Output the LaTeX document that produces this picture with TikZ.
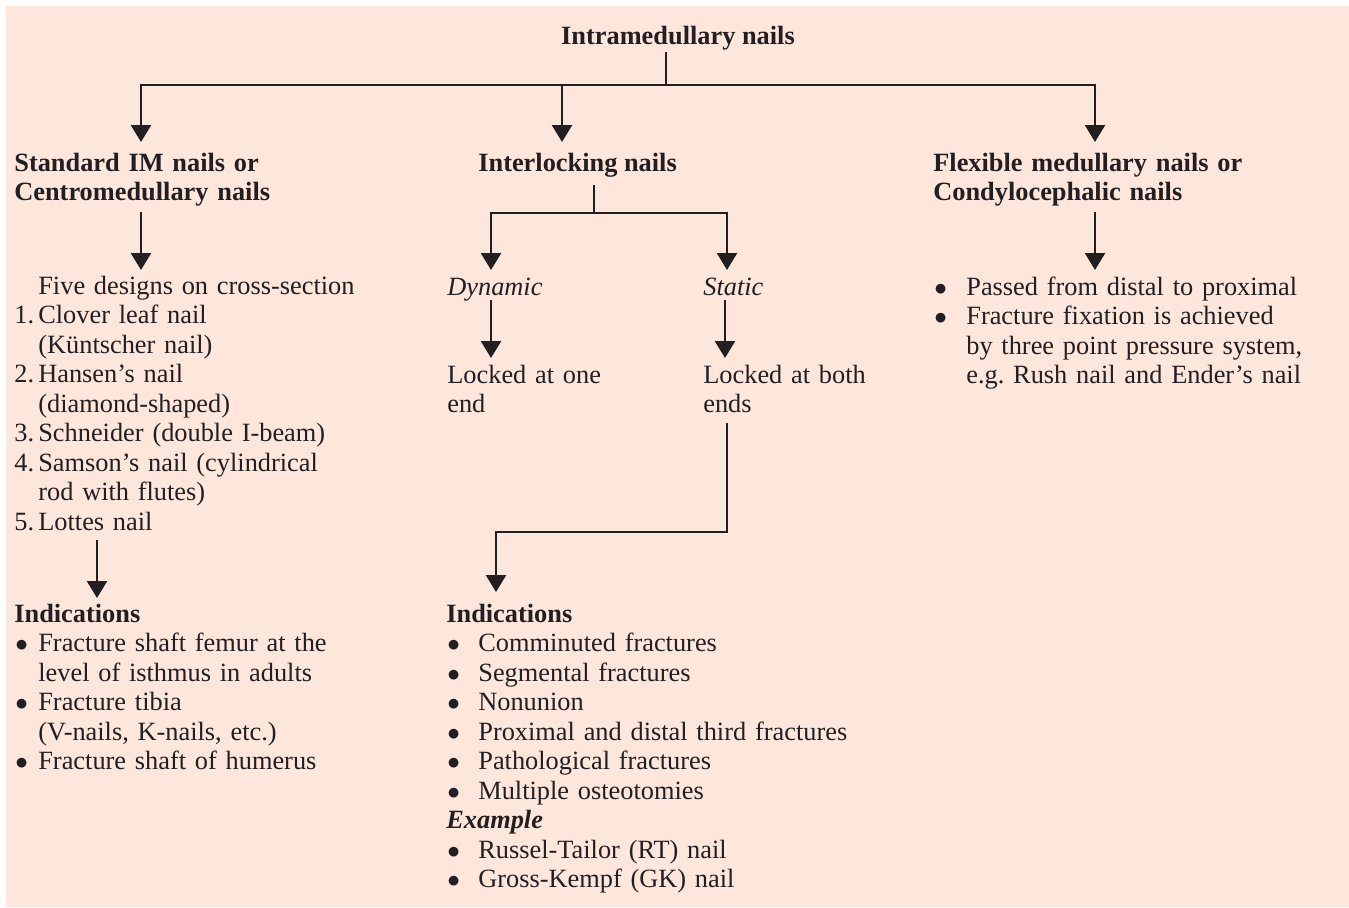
\documentclass[tikz,border=0pt]{standalone}
\usepackage{fontspec}
\setmainfont{Liberation Serif}
\usepackage{xcolor}
\usetikzlibrary{arrows.meta}
\usetikzlibrary{calc}
\definecolor{bgpink}{RGB}{253,230,220}
\definecolor{ink}{RGB}{35,31,32}
\newcommand{\bul}[1]{\makebox[#1][l]{\hspace{0.02cm}$\bullet$}}
\newcommand{\ind}[1]{\hspace*{#1}}
\newcommand{\numb}[1]{\makebox[0.48cm][l]{#1}}
\frenchspacing

\begin{document}
\begin{tikzpicture}[x=0.02cm,y=-0.02cm,
    txt/.style={anchor=base west,inner sep=0pt,text=ink,
      font=\fontsize{15pt}{16.79pt}\selectfont},
    head/.style={txt,font=\fontsize{15pt}{16.79pt}\selectfont\bfseries},
    list/.style={txt,align=left,text width=9cm},
    link/.style={draw=ink,line width=1.4pt},
    arr/.style={link,-{Triangle[width=0.4cm,length=0.34cm]}}]
    \useasboundingbox (0,0) rectangle (1349,907);
    \fill[bgpink] (6,6) rectangle (1349,907);

    % headings
    \node[head,anchor=base] (root) at (678,44) {Intramedullary nails};
    \node[head,align=left,text width=7cm] (std) at (14,171) {Standard IM nails or\\Centromedullary nails};
    \node[head] (inter) at (478,171) {Interlocking nails};
    \node[head,align=left,text width=8cm] (flex) at (933,171) {Flexible medullary nails or\\Condylocephalic nails};

    % left column
    \node[list] (designs) at (14,294) {\ind{0.48cm}Five designs on cross-section\\
      \numb{1.}Clover leaf nail\\
      \ind{0.48cm}(Küntscher nail)\\
      \numb{2.}Hansen's nail\\
      \ind{0.48cm}(diamond-shaped)\\
      \numb{3.}Schneider (double I-beam)\\
      \numb{4.}Samson's nail (cylindrical\\
      \ind{0.48cm}rod with flutes)\\
      \numb{5.}Lottes nail};
    \node[list] (indleft) at (14,622) {\textbf{Indications}\\
      \bul{0.48cm}Fracture shaft femur at the\\
      \ind{0.48cm}level of isthmus in adults\\
      \bul{0.48cm}Fracture tibia\\
      \ind{0.48cm}(V-nails, K-nails, etc.)\\
      \bul{0.48cm}Fracture shaft of humerus};

    % middle column
    \node[txt] (dyn) at (447,295) {\textit{Dynamic}};
    \node[txt] (stat) at (703,295) {\textit{Static}};
    \node[list] (lockone) at (447,383) {Locked at one\\end};
    \node[list] (lockboth) at (703,383) {Locked at both\\ends};
    \node[list] (indmid) at (446,622) {\textbf{Indications}\\
      \bul{0.64cm}Comminuted fractures\\
      \bul{0.64cm}Segmental fractures\\
      \bul{0.64cm}Nonunion\\
      \bul{0.64cm}Proximal and distal third fractures\\
      \bul{0.64cm}Pathological fractures\\
      \bul{0.64cm}Multiple osteotomies\\
      \textbf{\textit{Example}}\\
      \bul{0.64cm}Russel-Tailor (RT) nail\\
      \bul{0.64cm}Gross-Kempf (GK) nail};

    % right column
    \node[list,text width=8cm] (flexlist) at (933,295) {\bul{0.66cm}Passed from distal to proximal\\
      \bul{0.66cm}Fracture fixation is achieved\\
      \ind{0.66cm}by three point pressure system,\\
      \ind{0.66cm}e.g. Rush nail and Ender's nail};

    % connector points
    \coordinate (rootbot) at (666,52);
    \coordinate (bar) at (666,85);
    \coordinate (barmid) at (562,85);
    \coordinate (stdtop) at (141,142);
    \coordinate (intertop) at (562,142);
    \coordinate (flextop) at (1095,142);
    \coordinate (stdbot) at (141,212);
    \coordinate (designstop) at (141,270);
    \coordinate (designsbot) at (97,540);
    \coordinate (indlefttop) at (97,598);
    \coordinate (interbot) at (594,185);
    \coordinate (split) at (594,213);
    \coordinate (dyntop) at (491,270);
    \coordinate (stattop) at (727,270);
    \coordinate (dynbot) at (491,300);
    \coordinate (lockonetop) at (491,358);
    \coordinate (statbot) at (725,300);
    \coordinate (lockbothtop) at (725,358);
    \coordinate (lockbothbot) at (727,423);
    \coordinate (elbow) at (496,532);
    \coordinate (indmidtop) at (496,592);
    \coordinate (flexbot) at (1095,212);
    \coordinate (flexlisttop) at (1095,270);

    % connectors
    \draw[link] (rootbot) -- (bar);
    \draw[arr] (bar) -| (stdtop);
    \draw[arr] (bar) -| (flextop);
    \draw[arr] (barmid) -- (intertop);
    \draw[arr] (stdbot) -- (designstop);
    \draw[arr] (designsbot) -- (indlefttop);
    \draw[link] (interbot) -- (split);
    \draw[arr] (split) -| (dyntop);
    \draw[arr] (split) -| (stattop);
    \draw[arr] (dynbot) -- (lockonetop);
    \draw[arr] (statbot) -- (lockbothtop);
    \draw[arr] (lockbothbot) |- (elbow) -- (indmidtop);
    \draw[arr] (flexbot) -- (flexlisttop);
  \end{tikzpicture}
\end{document}
